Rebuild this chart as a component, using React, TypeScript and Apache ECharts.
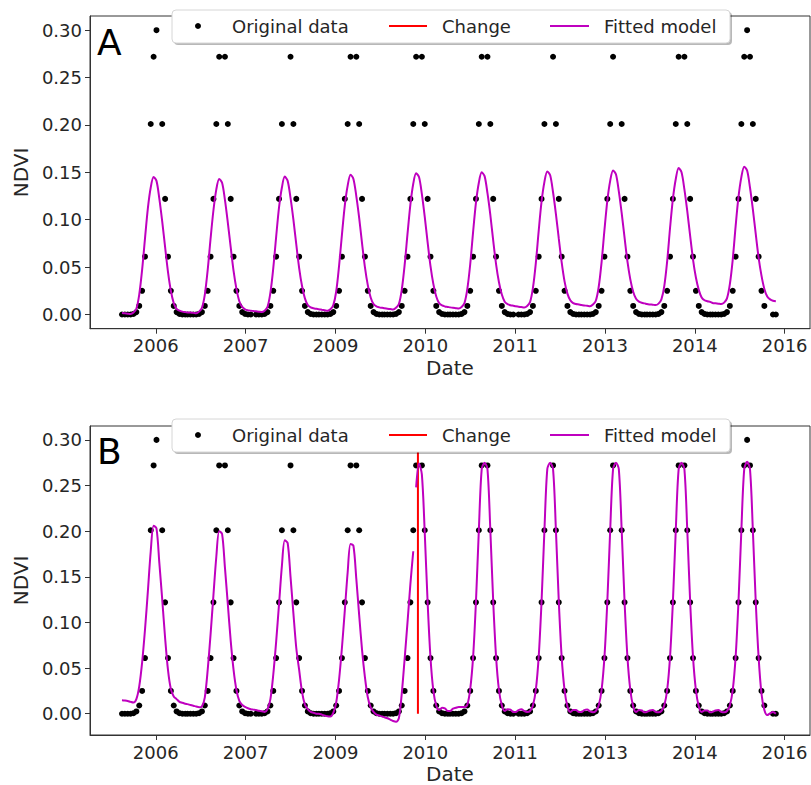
import React, { useEffect, useRef } from 'react';
import * as echarts from 'echarts';

// ---- time grid (MODIS 16-day composites) ----
const years = [2006, 2007, 2008, 2009, 2010, 2011, 2012, 2013, 2014, 2015];
const doys = [1, 17, 33, 49, 65, 81, 97, 113, 129, 145, 161, 177, 193, 209, 225, 241, 257, 273, 289, 305, 321, 337, 353];

// ---- x-axis ticks ----
const xTickDates = ['2006-07-08', '2007-11-20', '2009-04-03', '2010-08-16', '2011-12-29', '2013-05-12', '2014-09-24', '2016-02-06'];
const xTickLabels = ['2006', '2007', '2009', '2010', '2011', '2013', '2014', '2016'];
const xMinDate = '2005-07-07';
const xMaxDate = '2016-06-26';
const yTicks = [0, 0.05, 0.1, 0.15, 0.2, 0.25, 0.3];
const changeDate = '2010-07-06';
const changeRange = [0, 0.3];

const N = null;
// ---- original data (NDVI) per year, one value per composite ----
const obs2006 = [0, 0, 0, 0, 0.0006, 0.0025, 0.009, 0.025, 0.061, N, 0.201, 0.272, 0.3, N, 0.201, 0.122, 0.061, 0.025, 0.009, 0.0025, 0.0006, 0, 0];
const obs2007 = [0, 0, 0, 0, 0.0006, 0.0025, 0.009, 0.025, 0.061, 0.122, 0.201, 0.272, N, 0.272, 0.201, 0.122, 0.061, 0.025, 0.009, 0.0025, 0.0006, 0, 0];
const obs2008 = [N, 0, 0, 0, 0.0006, 0.0025, 0.009, 0.025, 0.061, 0.122, 0.201, N, N, 0.272, 0.201, 0.122, 0.061, 0.025, 0.009, 0.0025, 0.0006, 0, 0];
const obs2009 = [0, 0, 0, 0, 0.0006, 0.0025, 0.009, 0.025, 0.061, 0.122, 0.201, 0.272, N, 0.272, 0.201, 0.122, 0.061, 0.025, 0.009, 0.0025, 0.0006, 0, 0];
const obs2010 = [0, 0, 0, 0, 0.0006, 0.0025, 0.009, 0.025, 0.061, 0.122, 0.201, 0.272, N, 0.272, 0.201, 0.122, 0.061, 0.025, 0.009, 0.0025, 0.0006, 0, 0];
const obs2011 = [0, 0, 0, 0, 0.0006, 0.0025, 0.009, 0.025, 0.061, 0.122, 0.201, 0.272, N, 0.272, 0.201, 0.122, 0.061, 0.025, 0.009, 0.0025, 0.0006, 0, 0];
const obs2012 = [N, 0, 0, 0, 0.0006, 0.0025, 0.009, 0.025, 0.061, 0.122, 0.201, N, N, 0.272, 0.201, 0.122, 0.061, 0.025, 0.009, 0.0025, 0.0006, 0, 0];
const obs2013 = [0, 0, 0, 0, 0.0006, 0.0025, 0.009, 0.025, 0.061, 0.122, 0.201, 0.272, N, N, 0.201, 0.122, 0.061, 0.025, 0.009, 0.0025, 0.0006, 0, 0];
const obs2014 = [0, 0, 0, 0, 0.0006, 0.0025, 0.009, 0.025, 0.061, 0.122, 0.201, 0.272, N, 0.272, 0.201, 0.122, 0.061, 0.025, 0.009, 0.0025, 0.0006, 0, 0];
const obs2015 = [0, 0, 0, 0, 0.0006, 0.0025, 0.009, 0.025, 0.061, 0.122, 0.201, 0.272, 0.3, 0.272, 0.201, 0.122, 0.061, 0.025, 0.009, N, N, 0, 0];
const observed = [obs2006, obs2007, obs2008, obs2009, obs2010, obs2011, obs2012, obs2013, obs2014, obs2015];

// ---- panel A fitted model ----
const fitA2006 = [0.0015, 0.0012, 0.0008, 0.0005, 0.002, 0.006, 0.021, 0.047, 0.08, 0.112, 0.134, 0.145, 0.141, 0.122, 0.098, 0.071, 0.045, 0.025, 0.012, 0.006, 0.004, 0.003, 0.0025];
const fitA2007 = [0.0022, 0.002, 0.0017, 0.0013, 0.003, 0.007, 0.021, 0.047, 0.08, 0.11, 0.132, 0.143, 0.139, 0.121, 0.097, 0.071, 0.046, 0.027, 0.014, 0.008, 0.0055, 0.0045, 0.004];
const fitA2008 = [0.0037, 0.0033, 0.003, 0.0025, 0.004, 0.008, 0.023, 0.049, 0.082, 0.113, 0.134, 0.1455, 0.141, 0.123, 0.1, 0.074, 0.049, 0.03, 0.017, 0.01, 0.0075, 0.0065, 0.006];
const fitA2009 = [0.0055, 0.005, 0.0045, 0.004, 0.0055, 0.01, 0.024, 0.051, 0.084, 0.115, 0.136, 0.1475, 0.143, 0.125, 0.102, 0.075, 0.05, 0.031, 0.018, 0.011, 0.0085, 0.0075, 0.007];
const fitA2010 = [0.0065, 0.006, 0.0057, 0.0053, 0.007, 0.011, 0.026, 0.052, 0.085, 0.116, 0.138, 0.149, 0.145, 0.127, 0.103, 0.076, 0.051, 0.032, 0.019, 0.012, 0.0095, 0.0085, 0.008];
const fitA2011 = [0.0075, 0.007, 0.0067, 0.0064, 0.008, 0.012, 0.027, 0.053, 0.087, 0.118, 0.139, 0.15, 0.146, 0.128, 0.105, 0.078, 0.053, 0.034, 0.021, 0.0135, 0.011, 0.0098, 0.0092];
const fitA2012 = [0.0086, 0.0082, 0.0078, 0.0074, 0.009, 0.013, 0.028, 0.054, 0.088, 0.119, 0.14, 0.151, 0.147, 0.129, 0.106, 0.08, 0.055, 0.035, 0.022, 0.015, 0.012, 0.011, 0.0105];
const fitA2013 = [0.0099, 0.0095, 0.0092, 0.0088, 0.0105, 0.0145, 0.029, 0.055, 0.089, 0.12, 0.141, 0.152, 0.148, 0.13, 0.107, 0.081, 0.056, 0.037, 0.024, 0.0165, 0.0135, 0.0123, 0.0117];
const fitA2014 = [0.011, 0.0106, 0.0103, 0.0099, 0.0115, 0.016, 0.03, 0.056, 0.091, 0.122, 0.143, 0.1545, 0.15, 0.132, 0.109, 0.083, 0.058, 0.039, 0.026, 0.018, 0.015, 0.014, 0.0133];
const fitA2015 = [0.0122, 0.0118, 0.0114, 0.011, 0.0125, 0.017, 0.032, 0.058, 0.093, 0.124, 0.145, 0.156, 0.152, 0.134, 0.111, 0.085, 0.06, 0.041, 0.027, 0.019, 0.016, 0.0145, 0.014];
const fittedA = [fitA2006, fitA2007, fitA2008, fitA2009, fitA2010, fitA2011, fitA2012, fitA2013, fitA2014, fitA2015];

// ---- panel B fitted model, segment before the change (2006 .. 2010 composite 11) ----
const fitB1_2006 = [0.0148, 0.0145, 0.014, 0.013, 0.0123, 0.016, 0.03, 0.056, 0.092, 0.134, 0.178, 0.206, 0.203, 0.165, 0.125, 0.083, 0.048, 0.027, 0.019, 0.016, 0.013, 0.012, 0.011];
const fitB1_2007 = [0.0105, 0.0095, 0.0087, 0.008, 0.0072, 0.008, 0.018, 0.048, 0.087, 0.13, 0.172, 0.2, 0.197, 0.16, 0.12, 0.08, 0.048, 0.026, 0.014, 0.0095, 0.0075, 0.006, 0.005];
const fitB1_2008 = [0.0045, 0.004, 0.0033, 0.0027, 0.002, 0.005, 0.016, 0.043, 0.079, 0.12, 0.162, 0.19, 0.187, 0.15, 0.11, 0.072, 0.048, 0.024, 0.01, 0.005, 0.002, 0.001, 0];
const fitB1_2009 = [0, -0.001, -0.002, -0.0028, -0.003, 0.001, 0.012, 0.037, 0.072, 0.113, 0.155, 0.186, 0.184, 0.148, 0.108, 0.07, 0.04, 0.018, 0.007, 0.002, -0.001, -0.002, -0.003];
const fitB1_2010 = [-0.004, -0.005, -0.0065, -0.008, -0.0088, -0.005, 0.022, 0.06, 0.1, 0.142, 0.178];
const fittedB1 = [fitB1_2006, fitB1_2007, fitB1_2008, fitB1_2009, fitB1_2010];

// ---- panel B fitted model, segment after the change (2010 composite 12 .. 2015) ----
const fitB2_2010 = [0.248, 0.274, 0.262, 0.198, 0.122, 0.061, 0.025, 0.009, 0.004, 0.0065, 0.006, 0.003];
const fitB2_2011 = [0.003, 0.0055, 0.0065, 0.0075, 0.0075, 0.0075, 0.01, 0.027, 0.062, 0.123, 0.201, 0.268, 0.275, 0.268, 0.201, 0.123, 0.062, 0.026, 0.009, 0.003, 0.005, 0.0045, 0.002];
const fitB2_2012 = [0.002, 0.004, 0.005, 0.003, 0.002, 0.003, 0.009, 0.026, 0.062, 0.123, 0.201, 0.268, 0.275, 0.268, 0.201, 0.123, 0.062, 0.026, 0.008, 0.002, 0.004, 0.004, 0.002];
const fitB2_2013 = [0.002, 0.004, 0.0045, 0.0025, 0.0015, 0.003, 0.009, 0.026, 0.062, 0.123, 0.201, 0.268, 0.275, 0.268, 0.201, 0.123, 0.062, 0.026, 0.008, 0.002, 0.004, 0.0035, 0.0015];
const fitB2_2014 = [0.002, 0.0035, 0.004, 0.002, 0.0015, 0.003, 0.009, 0.026, 0.062, 0.123, 0.201, 0.268, 0.275, 0.268, 0.201, 0.123, 0.062, 0.026, 0.008, 0.002, 0.0035, 0.0035, 0.0015];
const fitB2_2015 = [0.002, 0.0035, 0.004, 0.002, 0.0015, 0.003, 0.009, 0.026, 0.062, 0.123, 0.201, 0.268, 0.276, 0.268, 0.201, 0.123, 0.062, 0.022, 0.004, -0.0015, 0.0005, 0.002, 0];
const fittedB2 = [fitB2_2010, fitB2_2011, fitB2_2012, fitB2_2013, fitB2_2014, fitB2_2015];
const fittedB2FirstYear = 2010;

// ---- helpers ----
const parseDate = (s: string) => {
  const [y, m, d] = s.split('-').map(Number);
  return Date.UTC(y, m - 1, d);
};
const obsTime = (year: number, k: number) => Date.UTC(year, 0, doys[k]);

const buildSeries = (arrs: (number | null)[][], firstYear: number) => {
  const out: [number, number][] = [];
  arrs.forEach((arr, i) => {
    const year = firstYear + i;
    arr.forEach((v, j) => {
      if (v !== null && v !== undefined) out.push([obsTime(year, j), v as number]);
    });
  });
  return out;
};

const FONT = 'DejaVu Sans';
const TXT = '#262626';
const SPINE = '#333333';
const MAGENTA = '#bf00bf';
const RED = '#ff0000';

export default function App() {
  const ref = useRef<HTMLDivElement>(null);

  useEffect(() => {
    if (!ref.current) return;
    const chart = echarts.init(ref.current, null, { renderer: 'svg' });

    const tickTimes = xTickDates.map(parseDate);
    const xMin = parseDate(xMinDate);
    const xMax = parseDate(xMaxDate);
    const xLabel = (v: number) => {
      let best = 0;
      tickTimes.forEach((t, i) => {
        if (Math.abs(t - v) < Math.abs(tickTimes[best] - v)) best = i;
      });
      return xTickLabels[best];
    };

    const scatterData = buildSeries(observed, years[0]);
    const fitAData = buildSeries(fittedA, years[0]);
    const fitB1Data = buildSeries(fittedB1, years[0]);
    // segment 2: first array holds the last composites of its year
    const fitB2Data: [number, number][] = [];
    fittedB2.forEach((arr, i) => {
      const year = fittedB2FirstYear + i;
      const offset = doys.length - arr.length;
      arr.forEach((v, j) => fitB2Data.push([obsTime(year, j + offset), v]));
    });
    const changeT = parseDate(changeDate);

    const xAxis = (gridIndex: number) => ({
      type: 'value',
      gridIndex,
      min: xMin,
      max: xMax,
      name: 'Date',
      nameLocation: 'middle',
      nameGap: 29,
      nameTextStyle: { fontSize: 20, color: TXT, fontFamily: FONT },
      axisLine: { show: true, onZero: false, lineStyle: { color: SPINE, width: 1 } },
      axisTick: { show: true, customValues: tickTimes, length: 5, lineStyle: { color: SPINE, width: 1 } },
      axisLabel: { customValues: tickTimes, formatter: xLabel, fontSize: 18, color: TXT, fontFamily: FONT, margin: 8 },
      splitLine: { show: false },
    });
    const yAxis = (gridIndex: number, min: number, max: number) => ({
      type: 'value',
      gridIndex,
      min,
      max,
      name: 'NDVI',
      nameLocation: 'middle',
      nameGap: 57,
      nameRotate: 90,
      nameTextStyle: { fontSize: 20, color: TXT, fontFamily: FONT },
      axisLine: { show: true, onZero: false, lineStyle: { color: SPINE, width: 1 } },
      axisTick: { show: true, customValues: yTicks, length: 5, lineStyle: { color: SPINE, width: 1 } },
      axisLabel: { customValues: yTicks, formatter: (v: number) => v.toFixed(2), fontSize: 18, color: TXT, fontFamily: FONT, margin: 8 },
      splitLine: { show: false },
    });

    const legend = (boxTop: number) => {
      const cy = boxTop + 16;
      return [
        { type: 'rect', z: 100, shape: { x: 174, y: boxTop + 2, width: 558, height: 33, r: 4 }, style: { fill: 'rgba(0,0,0,0.28)' } },
        { type: 'rect', z: 101, shape: { x: 172, y: boxTop, width: 558, height: 33, r: 4 }, style: { fill: '#ffffff', stroke: '#d6d6d6', lineWidth: 1 } },
        { type: 'circle', z: 102, shape: { cx: 198, cy, r: 3 }, style: { fill: '#000' } },
        { type: 'text', z: 102, x: 232, y: cy, style: { text: 'Original data', fontSize: 18, fontFamily: FONT, fill: TXT, verticalAlign: 'middle' } },
        { type: 'line', z: 102, shape: { x1: 389, y1: cy, x2: 427, y2: cy }, style: { stroke: RED, lineWidth: 2 } },
        { type: 'text', z: 102, x: 442, y: cy, style: { text: 'Change', fontSize: 18, fontFamily: FONT, fill: TXT, verticalAlign: 'middle' } },
        { type: 'line', z: 102, shape: { x1: 550, y1: cy, x2: 589, y2: cy }, style: { stroke: MAGENTA, lineWidth: 2 } },
        { type: 'text', z: 102, x: 604, y: cy, style: { text: 'Fitted model', fontSize: 18, fontFamily: FONT, fill: TXT, verticalAlign: 'middle' } },
      ];
    };

    const dotStyle = { color: '#000', opacity: 1 };

    const option: any = {
      animation: false,
      backgroundColor: '#ffffff',
      textStyle: { fontFamily: FONT },
      grid: [
        { left: 90, top: 16, width: 720, height: 312.7, show: true, borderColor: SPINE, borderWidth: 1, containLabel: false },
        { left: 90, top: 426, width: 720, height: 310.7, show: true, borderColor: SPINE, borderWidth: 1, containLabel: false },
      ],
      xAxis: [xAxis(0), xAxis(1)],
      yAxis: [yAxis(0, -0.015, 0.315), yAxis(1, -0.0233, 0.3152)],
      series: [
        { name: 'Original data', type: 'scatter', xAxisIndex: 0, yAxisIndex: 0, data: scatterData, symbolSize: 6, itemStyle: dotStyle, z: 2 },
        { name: 'Fitted model', type: 'line', xAxisIndex: 0, yAxisIndex: 0, data: fitAData, showSymbol: false, symbol: 'none', smooth: 0.3, lineStyle: { color: MAGENTA, width: 2 }, z: 4 },
        { name: 'Original data', type: 'scatter', xAxisIndex: 1, yAxisIndex: 1, data: scatterData, symbolSize: 6, itemStyle: dotStyle, z: 2 },
        { name: 'Change', type: 'line', xAxisIndex: 1, yAxisIndex: 1, data: changeRange.map((v) => [changeT, v]), showSymbol: false, symbol: 'none', lineStyle: { color: RED, width: 2 }, z: 3 },
        { name: 'Fitted model', type: 'line', xAxisIndex: 1, yAxisIndex: 1, data: fitB1Data, showSymbol: false, symbol: 'none', smooth: 0.3, lineStyle: { color: MAGENTA, width: 2 }, z: 4 },
        { name: 'Fitted model', type: 'line', xAxisIndex: 1, yAxisIndex: 1, data: fitB2Data, showSymbol: false, symbol: 'none', smooth: 0.3, lineStyle: { color: MAGENTA, width: 2 }, z: 4 },
      ],
      graphic: [
        ...legend(10),
        ...legend(419),
        { type: 'text', z: 100, x: 97, y: 42, style: { text: 'A', fontSize: 36, fontFamily: FONT, fill: '#000', verticalAlign: 'middle' } },
        { type: 'text', z: 100, x: 97, y: 451, style: { text: 'B', fontSize: 36, fontFamily: FONT, fill: '#000', verticalAlign: 'middle' } },
      ],
    };

    chart.setOption(option);
    return () => chart.dispose();
  }, []);

  return <div ref={ref} style={{ position: 'fixed', left: 0, top: 0, width: 811, height: 785, background: '#fff' }} />;
}
